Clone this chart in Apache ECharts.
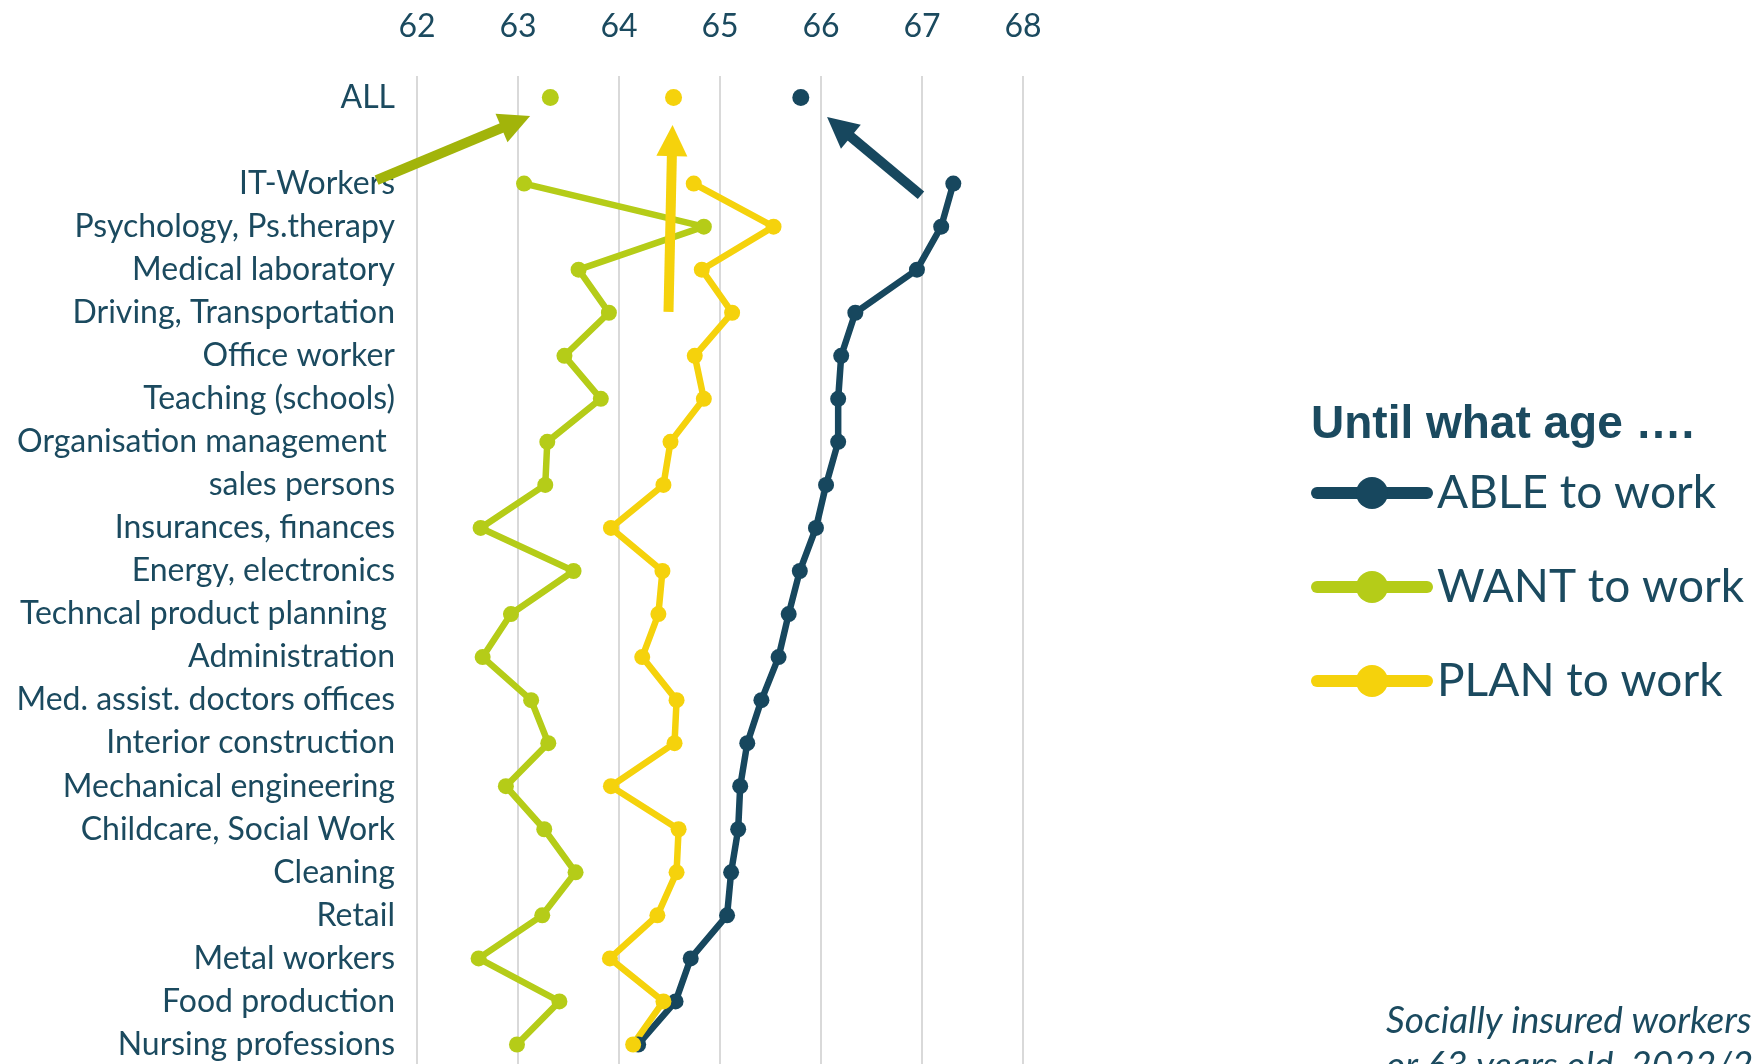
<!DOCTYPE html>
<html>
<head>
<meta charset="utf-8">
<script src="https://cdn.jsdelivr.net/npm/echarts@6.0.0/dist/echarts.min.js"></script>
<style>
  html, body { margin: 0; padding: 0; background: #ffffff; }
  #chart { width: 1756px; height: 1064px; }
</style>
</head>
<body>
<div id="chart"></div>
<script>
// Age axis ticks
const ageTicks = [62, 63, 64, 65, 66, 67, 68];

// Occupational groups, top to bottom
const occupations = [
  'IT-Workers',
  'Psychology, Ps.therapy',
  'Medical laboratory',
  'Driving, Transportation',
  'Office worker',
  'Teaching (schools)',
  'Organisation management ',
  'sales persons',
  'Insurances, finances',
  'Energy, electronics',
  'Techncal product planning ',
  'Administration',
  'Med. assist. doctors offices',
  'Interior construction',
  'Mechanical engineering',
  'Childcare, Social Work',
  'Cleaning',
  'Retail',
  'Metal workers',
  'Food production',
  'Nursing professions'
];

// Mean age until which people are able / want / plan to work
const ableToWork = [67.31, 67.19, 66.95, 66.34, 66.20, 66.17, 66.17, 66.05, 65.95, 65.79, 65.68,
                    65.58, 65.41, 65.27, 65.20, 65.18, 65.11, 65.07, 64.71, 64.56, 64.19];
const wantToWork = [63.06, 64.84, 63.60, 63.90, 63.46, 63.82, 63.29, 63.27, 62.63, 63.55, 62.93,
                    62.65, 63.13, 63.30, 62.88, 63.26, 63.57, 63.24, 62.61, 63.41, 62.99];
const planToWork = [64.74, 65.53, 64.82, 65.12, 64.75, 64.84, 64.51, 64.44, 63.92, 64.43, 64.39,
                    64.23, 64.57, 64.55, 63.92, 64.59, 64.57, 64.38, 63.91, 64.44, 64.14];

// Averages over all workers
const allAble = 65.80;
const allWant = 63.32;
const allPlan = 64.54;

// Pointer arrows towards the overall averages: [fromAge, fromRow, tipAge, tipRow]
// (row = index on the category scale, ALL = 0)
const arrowAble = [66.99, 2.27, 66.06, 0.45];
const arrowWant = [61.60, 1.92, 63.12, 0.43];
const arrowPlan = [64.49, 4.98, 64.53, 0.64];

const TEXT = '#1B4A5F';
const C_ABLE = '#17475E';
const C_WANT = '#B5CC18';
const C_PLAN = '#F5D20C';
const C_WANT_ARROW = '#A2B40A';
const LABEL_FONT = 'Lato, "Open Sans", sans-serif';

// ALL row, a blank spacer row, then the occupations
const rows = ['ALL', ''].concat(occupations);

function rowData(allValue, values) {
  return [{ value: allValue, symbolSize: 17 }, null].concat(values);
}

function lineSeries(name, color, allValue, values) {
  return {
    name: name,
    type: 'line',
    data: rowData(allValue, values),
    connectNulls: false,
    symbol: 'circle',
    symbolSize: 16,
    showAllSymbol: true,
    color: color,
    lineStyle: { width: 6.5, color: color, join: 'round', cap: 'round' },
    itemStyle: { color: color },
    emphasis: { disabled: true },
    z: 3
  };
}

// Block arrow: straight shaft with a triangular head ending at the tip
function renderArrow(params, api) {
  const from = api.coord([api.value(0), api.value(1)]);
  const tip = api.coord([api.value(2), api.value(3)]);
  const color = api.visual('color');
  const dx = tip[0] - from[0];
  const dy = tip[1] - from[1];
  const len = Math.sqrt(dx * dx + dy * dy);
  const ux = dx / len, uy = dy / len;
  const nx = -uy, ny = ux;
  const headLen = 31, headHalf = 15.5, shaftHalf = 5;
  const bx = tip[0] - ux * headLen, by = tip[1] - uy * headLen;
  return {
    type: 'group',
    children: [
      {
        type: 'polygon',
        shape: { points: [
          [from[0] + nx * shaftHalf, from[1] + ny * shaftHalf],
          [bx + ux + nx * shaftHalf, by + uy + ny * shaftHalf],
          [bx + ux - nx * shaftHalf, by + uy - ny * shaftHalf],
          [from[0] - nx * shaftHalf, from[1] - ny * shaftHalf]
        ] },
        style: { fill: color }
      },
      {
        type: 'polygon',
        shape: { points: [
          [tip[0], tip[1]],
          [bx + nx * headHalf, by + ny * headHalf],
          [bx - nx * headHalf, by - ny * headHalf]
        ] },
        style: { fill: color }
      }
    ]
  };
}

const chart = echarts.init(document.getElementById('chart'), null, { renderer: 'canvas' });

chart.setOption({
  animation: false,
  backgroundColor: '#ffffff',
  title: [
    {
      text: 'Until what age \u2026.',
      left: 1311,
      top: 402,
      padding: 0,
      textStyle: {
        fontFamily: '"Liberation Sans", Arial, sans-serif',
        fontWeight: 'bold',
        fontSize: 46,
        lineHeight: 46,
        color: TEXT
      }
    },
    {
      text: 'Socially insured workers\nor 63 years old, 2022/23',
      left: 1386,
      top: 999,
      padding: 0,
      textStyle: {
        fontFamily: LABEL_FONT,
        fontStyle: 'italic',
        fontWeight: 'normal',
        fontSize: 37,
        lineHeight: 45,
        color: TEXT
      }
    }
  ],
  legend: {
    orient: 'vertical',
    left: 1311,
    top: 468,
    itemWidth: 110,
    itemHeight: 40,
    itemGap: 44,
    padding: 0,
    selectedMode: false,
    data: ['ABLE to work', 'WANT to work', 'PLAN to work'],
    lineStyle: { width: 12, cap: 'round' },
    textStyle: {
      fontFamily: LABEL_FONT,
      fontSize: 46,
      lineHeight: 50,
      padding: [0, 0, 0, 5],
      color: TEXT
    }
  },
  grid: {
    left: 417,
    right: 733,
    top: 76,
    bottom: -2,
    containLabel: false,
    outerBoundsMode: 'none'
  },
  xAxis: {
    type: 'value',
    position: 'top',
    min: ageTicks[0],
    max: ageTicks[ageTicks.length - 1],
    interval: 1,
    axisLine: { show: false },
    axisTick: { show: false },
    axisLabel: {
      margin: 33,
      fontFamily: LABEL_FONT,
      fontSize: 32,
      color: TEXT
    },
    splitLine: { show: true, lineStyle: { color: '#D9D9D9', width: 2 } }
  },
  yAxis: [
    {
      type: 'category',
      inverse: true,
      data: rows,
      axisLine: { show: false },
      axisTick: { show: false },
      splitLine: { show: false },
      axisLabel: {
        margin: 22,
        interval: 0,
        padding: [8, 0, 0, 0],
        fontFamily: LABEL_FONT,
        fontSize: 32,
        color: TEXT
      }
    },
    {
      // same rows on a continuous scale, used for the pointer arrows
      type: 'value',
      inverse: true,
      show: false,
      min: -0.5,
      max: rows.length - 0.5,
      splitLine: { show: false }
    }
  ],
  series: [
    lineSeries('ABLE to work', C_ABLE, allAble, ableToWork),
    lineSeries('WANT to work', C_WANT, allWant, wantToWork),
    lineSeries('PLAN to work', C_PLAN, allPlan, planToWork),
    {
      name: 'arrows',
      type: 'custom',
      xAxisIndex: 0,
      yAxisIndex: 1,
      clip: false,
      silent: true,
      z: 10,
      renderItem: renderArrow,
      encode: { x: [0, 2], y: [1, 3] },
      data: [
        { value: arrowWant, itemStyle: { color: C_WANT_ARROW } },
        { value: arrowPlan, itemStyle: { color: C_PLAN } },
        { value: arrowAble, itemStyle: { color: C_ABLE } }
      ]
    }
  ]
});
</script>
</body>
</html>
